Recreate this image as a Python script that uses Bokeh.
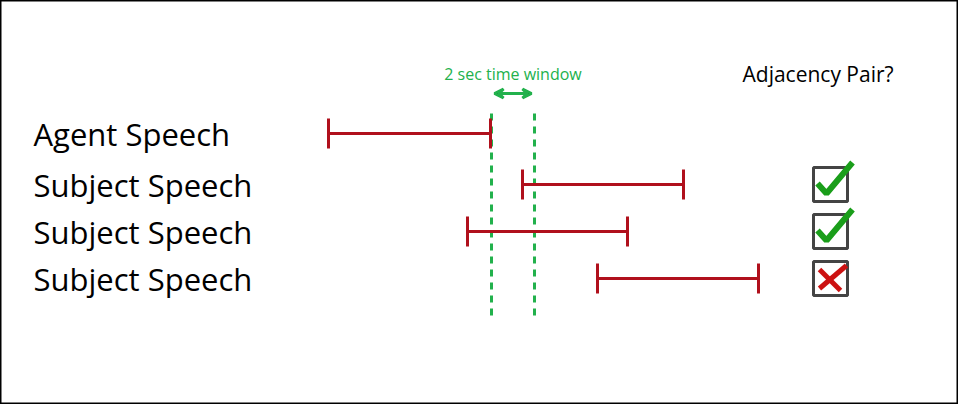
from bokeh.plotting import figure
from bokeh.models import Range1d, Arrow, VeeHead
from bokeh.core.properties import value
from bokeh.embed import file_html
from bokeh.resources import INLINE

# speech segments (start, end) on the time axis, one row per speaker turn
labels = ["Agent Speech", "Subject Speech", "Subject Speech", "Subject Speech"]
starts = [328, 522, 467, 597]
ends = [490, 683, 627, 758]
rows = [133, 184, 231, 278]
# adjacency pair verdicts for the subject turns
verdicts = [True, True, False]
window = [491, 534]

RED = "#b0101c"
GREEN = "#22b14c"

p = figure(width=958, height=404, x_range=Range1d(0, 958), y_range=Range1d(404, 0),
           output_backend="svg", toolbar_location=None, min_border=0)
p.axis.visible = False
p.grid.visible = False
p.outline_line_color = "black"
p.outline_line_width = 2

# time window
p.segment(x0=window, x1=window, y0=[113] * 2, y1=[318] * 2, line_color=GREEN,
          line_width=3, line_dash="7 6")
p.add_layout(Arrow(x_start=window[0] + 3, x_end=window[1] - 3, y_start=93, y_end=93,
                   line_color=GREEN, line_width=3,
                   start=VeeHead(size=9, line_color=GREEN, line_width=3),
                   end=VeeHead(size=9, line_color=GREEN, line_width=3)))
p.text(x=[sum(window) / 2], y=[73], text=["2 sec time window"], text_color=GREEN,
       text_font=value("Open Sans"), text_font_size="16px", text_align="center",
       text_baseline="middle")
p.text(x=[742], y=[73], text=["Adjacency Pair?"], text_color="black",
       text_font=value("Open Sans"), text_font_size="21px", text_baseline="middle")

# segments
p.segment(x0=starts, x1=ends, y0=rows, y1=rows, line_color=RED, line_width=3)
p.segment(x0=starts, x1=starts, y0=[r - 15 for r in rows], y1=[r + 15 for r in rows],
          line_color=RED, line_width=3)
p.segment(x0=ends, x1=ends, y0=[r - 15 for r in rows], y1=[r + 15 for r in rows],
          line_color=RED, line_width=3)
p.text(x=[33] * 4, y=rows, text=labels, text_color="black", text_font=value("Open Sans"),
       text_font_size="31px", text_baseline="middle")

# checkboxes
cx = 830
brow = rows[1:]
p.rect(x=[cx] * 3, y=brow, width=34, height=34, fill_color="white",
       line_color="#444444", line_width=3)
ok = [y for y, v in zip(brow, verdicts) if v]
bad = [y for y, v in zip(brow, verdicts) if not v]
p.multi_line(xs=[[cx - 13, cx - 4, cx + 22] for _ in ok],
             ys=[[y - 1, y + 9, y - 22] for y in ok], line_color="#1a9e1a", line_width=6)
p.multi_line(xs=[[cx - 11, cx + 10] for _ in bad] + [[cx + 16, cx - 11] for _ in bad],
             ys=[[y - 9, y + 12] for y in bad] + [[y - 13, y + 10] for y in bad],
             line_color="#cc1111", line_width=5)

open("out.html", "w").write(file_html(p, INLINE))
